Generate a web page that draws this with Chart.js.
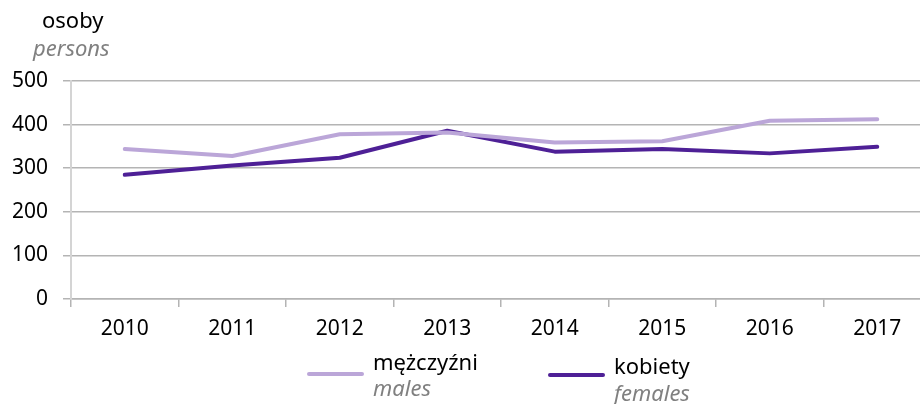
<!DOCTYPE html>
<html><head><meta charset="utf-8">
<script src="https://cdn.jsdelivr.net/npm/chart.js@4/dist/chart.umd.min.js"></script>
<style>html,body{margin:0;padding:0;background:#fff;overflow:hidden}#wrap{width:920px;height:404px;position:relative;overflow:hidden}canvas{display:block}</style>
</head><body><div id="wrap"><canvas id="c" width="932" height="404"></canvas></div>
<script>
const years = ['2010','2011','2012','2013','2014','2015','2016','2017'];
const males = [344, 328, 378, 382, 359, 362, 409, 412];
const females = [285, 306, 324, 386, 338, 344, 334, 349];
const seriesNames = [['mężczyźni','males'],['kobiety','females']];
const unitLabel = ['osoby','persons'];
const yTicks = [0,100,200,300,400,500];

const FONT = "'Noto Sans', sans-serif";
const C_MALE = '#bba6d8';
const C_FEMALE = '#4e2096';

const overlay = {
  id: 'overlay',
  afterDraw(chart) {
    const ctx = chart.ctx;
    ctx.save();
    ctx.textBaseline = 'middle';
    ctx.textAlign = 'left';
    ctx.fillStyle = '#000';
    ctx.font = '22px ' + FONT;
    ctx.fillText(unitLabel[0], 42, 22);
    ctx.fillStyle = '#808080';
    ctx.font = 'italic 22px ' + FONT;
    ctx.fillText(unitLabel[1], 33, 50);
    const items = [
      {x: 309, ly: 374, col: C_MALE, y1: 364, y2: 390},
      {x: 550, ly: 375, col: C_FEMALE, y1: 368, y2: 395}
    ];
    items.forEach((it, i) => {
      ctx.strokeStyle = it.col;
      ctx.lineWidth = 4;
      ctx.lineCap = 'round';
      ctx.beginPath();
      ctx.moveTo(it.x, it.ly);
      ctx.lineTo(it.x + 53, it.ly);
      ctx.stroke();
      ctx.fillStyle = '#000';
      ctx.font = '22px ' + FONT;
      ctx.fillText(seriesNames[i][0], it.x + 64, it.y1);
      ctx.fillStyle = '#808080';
      ctx.font = 'italic 22px ' + FONT;
      ctx.fillText(seriesNames[i][1], it.x + 64, it.y2);
    });
    ctx.restore();
  }
};

new Chart(document.getElementById('c'), {
  type: 'line',
  data: {
    labels: years,
    datasets: [
      {label: seriesNames[0][0], data: males, borderColor: C_MALE, borderWidth: 4, pointRadius: 0, tension: 0, borderCapStyle: 'round', borderJoinStyle: 'round'},
      {label: seriesNames[1][0], data: females, borderColor: C_FEMALE, borderWidth: 4, pointRadius: 0, tension: 0, borderCapStyle: 'round', borderJoinStyle: 'round'}
    ]
  },
  options: {
    responsive: false,
    animation: false,
    devicePixelRatio: 1,
    layout: {padding: {top: 81, left: 0, right: 1, bottom: 0}},
    plugins: {legend: {display: false}, tooltip: {enabled: false}},
    scales: {
      x: {
        offset: true,
        grid: {offset: true, drawOnChartArea: false, tickLength: 8, color: '#b4b4b4', lineWidth: 1.5},
        border: {color: '#b4b4b4', width: 1.5},
        ticks: {color: '#000', font: {family: FONT, size: 21}, padding: 9, maxRotation: 0},
        afterFit(s) { s.height = 105; }
      },
      y: {
        min: 0, max: 500,
        afterBuildTicks(s) { s.ticks = yTicks.map(v => ({value: v})); },
        grid: {color: '#b4b4b4', lineWidth: 1.5, tickLength: 8},
        border: {color: '#d4d4d4', width: 2},
        ticks: {color: '#000', font: {family: FONT, size: 21}, padding: 15},
        afterFit(s) { s.width = 71; }
      }
    }
  },
  plugins: [overlay]
});
</script>
</body></html>
